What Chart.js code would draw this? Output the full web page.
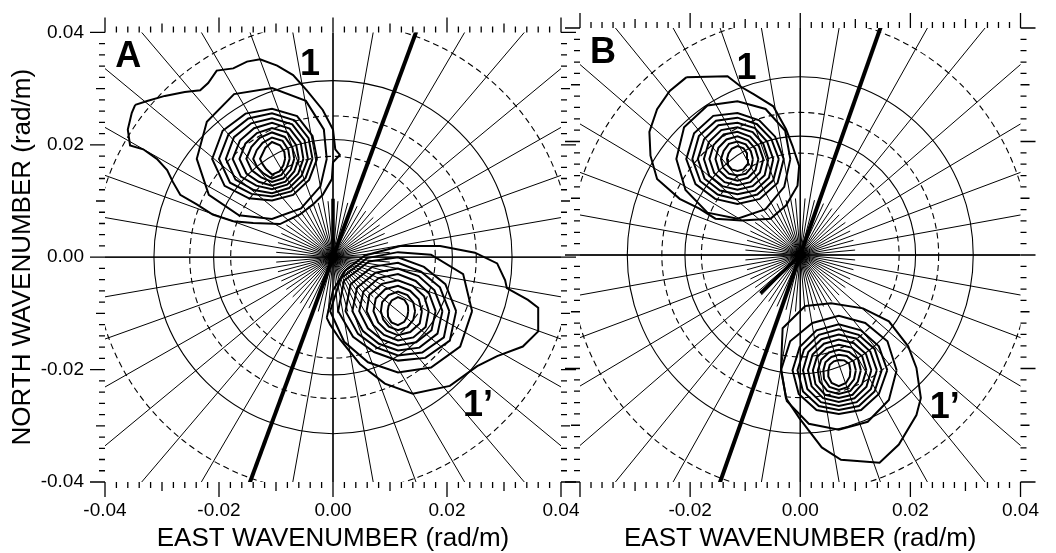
<!DOCTYPE html>
<html>
<head>
<meta charset="utf-8">
<script src="https://cdn.jsdelivr.net/npm/chart.js@4.4.1/dist/chart.umd.min.js"></script>
<style>
  html, body { margin: 0; padding: 0; background: #fff; }
  #wrap { position: relative; width: 1056px; height: 553px; }
  #wrap canvas { position: absolute; left: 0; top: 0; }
</style>
</head>
<body>
<div id="wrap">
  <canvas id="panelA" width="1056" height="553"></canvas>
  <canvas id="panelB" width="1056" height="553"></canvas>
</div>
<script>
// ---- axes (rad/m) ----
const axisMin = -0.04;
const axisMax = 0.04;
const tickValues = [-0.04, -0.02, 0, 0.02, 0.04];
const tickLabels = ['-0.04', '-0.02', '0.00', '0.02', '0.04'];
const minorTickStep = 0.002;

// ---- reference circles: wavelengths in metres, k = 2*pi/lambda ----
const circleWavelengths = [150, 200, 250, 300, 350];
const circleDashed = [true, false, true, false, true];

// ---- direction spokes (degrees, counter-clockwise from east) ----
const spokeStepDeg = 10;
const innerSpokeStepDeg = 5;
const innerSpokeReach = 0.01;
const thickLineDeg = 70;

// short direction vectors from the origin: [direction deg, length rad/m]
const vectorA = [90, 0.0104];
const vectorB = [223, 0.0099];

// ---- spectral contours, coordinates in 1e-3 rad/m ----
// outer contour: vertex list; inner contours: radii at 12 bearings
// (0, 30, ... 330 deg counter-clockwise from east) about the spectral peak
const unit = 0.001;

// panel A, system 1
const a1Centre = [-10.7, 17.5];
const a1Outer = [[-34.7,27.1],[-32.6,27.8],[-29.5,28.7],[-26.0,29.4],[-23.3,29.7],[-21.9,31.0],[-20.4,33.2],[-17.5,33.6],[-15.1,34.8],[-12.8,35.2],[-9.8,34.1],[-7.0,32.4],[-4.6,29.7],[-1.8,26.2],[0.0,22.7],[0.4,19.2],[1.2,18.2],[0.0,16.9],[-0.2,13.9],[-1.8,11.1],[-3.5,9.4],[-5.8,7.6],[-9.3,5.9],[-14.0,6.1],[-17.5,6.4],[-21.1,7.6],[-23.9,9.4],[-26.8,11.1],[-28.1,13.4],[-29.1,15.5],[-30.9,17.5],[-33.3,19.2],[-35.6,19.9],[-36.0,22.7],[-35.3,25.7]];
const a1Rings = [
  [9.6,10.5,11.9,12.6,13.3,13.2,13.2,12.8,11.6,10.7,10.2,9.8],
  [7.9,8.2,8.8,8.9,9.3,10.0,10.5,9.6,8.1,7.4,7.4,7.5],
  [7.1,7.4,7.9,8.1,8.3,8.8,9.3,8.5,7.2,6.7,6.7,6.8],
  [6.3,6.6,7.1,7.2,7.3,7.7,8.1,7.4,6.4,6.1,6.0,6.0],
  [5.5,5.8,6.2,6.4,6.3,6.5,6.9,6.3,5.5,5.4,5.3,5.3],
  [4.7,4.9,5.4,5.5,5.3,5.4,5.7,5.2,4.7,4.8,4.7,4.5],
  [3.9,4.1,4.5,4.7,4.3,4.2,4.5,4.1,3.8,4.1,4.0,3.8],
  [3.1,3.3,3.7,3.8,3.3,3.1,3.3,3.0,3.0,3.5,3.3,3.0],
  [2.3,2.5,2.8,3.0,2.3,1.9,2.1,1.9,2.1,2.8,2.6,2.3]
];

// panel A, system 1'
const a2Centre = [11.4, -9.6];
const a2Outer = [[-1.1,-10.8],[0.0,-5.9],[2.1,-2.4],[5.6,0.3],[11.8,2.0],[18.8,2.0],[24.9,0.8],[28.8,-1.1],[30.2,-4.1],[30.5,-5.5],[34.2,-7.6],[36.0,-9.0],[36.0,-13.2],[33.3,-15.9],[28.8,-17.6],[25.3,-19.4],[20.5,-22.9],[14.0,-24.3],[9.1,-22.5],[4.7,-19.0],[1.2,-14.6],[-0.5,-12.0]];
const a2Rings = [
  [13.0,13.2,11.6,10.5,10.9,11.6,11.9,10.9,10.5,10.9,11.6,12.6],
  [10.2,9.6,9.1,9.6,10.2,10.9,10.5,9.1,8.4,8.8,9.6,10.5],
  [9.0,8.5,8.1,8.6,9.1,9.6,9.2,8.1,7.5,7.9,8.5,9.3],
  [7.8,7.4,7.2,7.6,7.9,8.3,8.0,7.1,6.7,7.0,7.5,8.0],
  [6.6,6.3,6.2,6.6,6.8,7.0,6.8,6.1,5.8,6.1,6.4,6.8],
  [5.4,5.3,5.2,5.5,5.6,5.8,5.5,5.0,4.9,5.2,5.4,5.6],
  [4.2,4.2,4.2,4.5,4.5,4.5,4.3,4.0,4.0,4.3,4.3,4.4],
  [3.0,3.1,3.3,3.5,3.3,3.2,3.0,3.0,3.2,3.4,3.3,3.1],
  [1.8,2.0,2.3,2.5,2.2,1.9,1.8,2.0,2.3,2.5,2.2,1.9]
];

// panel B, system 1
const b1Centre = [-11.4, 16.9];
const b1Outer = [[-20.7,31.3],[-13.2,31.5],[-10.7,29.6],[-8.4,28.3],[-4.9,26.2],[-2.6,22.2],[-1.4,19.2],[-0.2,15.7],[-0.5,12.2],[-2.6,8.7],[-5.4,6.4],[-10.7,6.1],[-15.4,6.4],[-18.4,8.2],[-21.9,9.9],[-26.0,13.4],[-27.2,17.5],[-27.4,21.7],[-26.0,25.7],[-23.7,28.9]];
const b1Rings = [
  [9.6,10.0,10.2,10.2,10.9,11.2,11.1,10.9,10.9,10.5,10.2,9.8],
  [8.4,7.9,7.9,8.1,8.8,9.1,9.3,8.8,8.1,7.9,8.1,8.4],
  [7.5,7.1,7.1,7.3,7.8,8.1,8.2,7.8,7.2,7.1,7.2,7.5],
  [6.5,6.2,6.3,6.4,6.9,7.0,7.2,6.9,6.4,6.2,6.4,6.6],
  [5.6,5.4,5.5,5.6,5.9,6.0,6.1,5.9,5.5,5.4,5.5,5.7],
  [4.7,4.5,4.6,4.8,5.0,5.0,5.1,4.9,4.7,4.6,4.7,4.7],
  [3.8,3.7,3.8,4.0,4.0,4.0,4.0,3.9,3.8,3.8,3.8,3.8],
  [2.8,2.8,3.0,3.1,3.1,2.9,3.0,3.0,3.0,2.9,3.0,2.9],
  [1.9,2.0,2.2,2.3,2.1,1.9,1.9,2.0,2.1,2.1,2.1,2.0]
];

// panel B, system 1'
const b2Centre = [7.0, -20.3];
const b2Outer = [[0.9,-9.0],[-3.2,-12.9],[-3.5,-19.9],[-2.6,-25.2],[-0.2,-28.7],[3.9,-33.9],[7.4,-36.1],[14.4,-36.6],[17.9,-33.4],[21.1,-28.2],[21.9,-25.2],[21.1,-19.9],[19.6,-16.1],[16.1,-11.7],[11.4,-9.4],[5.6,-8.5]];
const b2Rings = [
  [10.5,10.2,9.6,9.6,9.6,10.2,10.5,10.9,10.9,10.5,10.5,10.5],
  [8.8,8.4,8.1,8.1,8.1,8.2,8.4,8.4,8.1,7.7,8.1,8.4],
  [7.8,7.5,7.2,7.2,7.2,7.3,7.5,7.5,7.3,7.0,7.3,7.5],
  [6.9,6.6,6.4,6.3,6.3,6.4,6.5,6.6,6.5,6.3,6.5,6.7],
  [5.9,5.7,5.5,5.4,5.4,5.5,5.6,5.7,5.7,5.6,5.7,5.8],
  [5.0,4.9,4.6,4.5,4.5,4.6,4.7,4.9,5.0,4.9,5.0,4.9],
  [4.0,4.0,3.7,3.6,3.6,3.7,3.8,4.0,4.2,4.2,4.2,4.0],
  [3.1,3.1,2.9,2.7,2.7,2.8,2.8,3.1,3.4,3.5,3.4,3.2],
  [2.1,2.2,2.0,1.8,1.8,1.9,1.9,2.2,2.6,2.8,2.6,2.3]
];

// ---- annotations: text and where it sits (rad/m) ----
const panelLetters = ['A', 'B'];
const letterAt = [-0.0382, 0.0339];
const peakLabelsA = [['1', [-0.0058, 0.0324]], ['1\u2019', [0.0228, -0.0283]]];
const peakLabelsB = [['1', [-0.0116, 0.0310]], ['1\u2019', [0.0235, -0.0287]]];

const FONT = '"Liberation Sans", Arial, Helvetica, sans-serif';

function closedPath(list) {
  const pts = list.map(([x, y]) => ({ x: x * unit, y: y * unit }));
  pts.push(pts[0]);
  return pts;
}
function ringPath(centre, radii) {
  const n = radii.length;
  const pts = radii.map((r, i) => {
    const t = 2 * Math.PI * i / n;
    return { x: (centre[0] + r * Math.cos(t)) * unit, y: (centre[1] + r * Math.sin(t)) * unit };
  });
  pts.push(pts[0]);
  return pts;
}
function contourSet(centre, outer, rings) {
  const sets = [closedPath(outer)];
  rings.forEach(r => sets.push(ringPath(centre, r)));
  return sets.map(data => ({
    data, showLine: true, borderColor: '#000', borderWidth: 2,
    pointRadius: 0, tension: 0, fill: false, borderJoinStyle: 'miter'
  }));
}

// polar grid, axis tick marks and labels drawn through the chart's scales
const decor = {
  id: 'decor',
  beforeDatasetsDraw(chart, args, o) {
    const { ctx, chartArea: a, scales: { x, y } } = chart;
    const x0 = x.getPixelForValue(0), y0 = y.getPixelForValue(0);
    const px = v => x.getPixelForValue(v), py = v => y.getPixelForValue(v);
    ctx.save();
    ctx.beginPath();
    ctx.rect(a.left, a.top, a.right - a.left, a.bottom - a.top);
    ctx.clip();
    ctx.strokeStyle = '#000';
    // wavelength circles
    circleWavelengths.forEach((lam, i) => {
      const k = 2 * Math.PI / lam;
      ctx.beginPath();
      ctx.ellipse(x0, y0, px(k) - x0, y0 - py(k), 0, 0, 2 * Math.PI);
      ctx.setLineDash(circleDashed[i] ? [6, 4] : []);
      ctx.lineWidth = 1.1;
      ctx.stroke();
    });
    ctx.setLineDash([]);
    // direction spokes
    ctx.lineWidth = 1;
    for (let d = 0; d < 360; d += innerSpokeStepDeg) {
      const t = d * Math.PI / 180;
      const reach = (d % spokeStepDeg === 0) ? 0.08 : innerSpokeReach;
      ctx.beginPath();
      ctx.moveTo(x0, y0);
      ctx.lineTo(px(reach * Math.cos(t)), py(reach * Math.sin(t)));
      ctx.stroke();
    }
    // zero lines
    ctx.lineWidth = 1.3;
    ctx.beginPath();
    ctx.moveTo(a.left, y0); ctx.lineTo(a.right, y0);
    ctx.moveTo(x0, a.top); ctx.lineTo(x0, a.bottom);
    ctx.stroke();
    // thick direction line
    const tt = thickLineDeg * Math.PI / 180;
    ctx.lineWidth = 4;
    ctx.beginPath();
    ctx.moveTo(px(-0.08 * Math.cos(tt)), py(-0.08 * Math.sin(tt)));
    ctx.lineTo(px(0.08 * Math.cos(tt)), py(0.08 * Math.sin(tt)));
    ctx.stroke();
    // short vector
    const [vd, vl] = o.vector;
    const vt = vd * Math.PI / 180;
    ctx.lineWidth = 3.5;
    ctx.beginPath();
    ctx.moveTo(x0, y0);
    ctx.lineTo(px(vl * Math.cos(vt)), py(vl * Math.sin(vt)));
    ctx.stroke();
    // origin dot
    ctx.fillStyle = '#000';
    ctx.beginPath();
    ctx.arc(x0, y0, 5.5, 0, 2 * Math.PI);
    ctx.fill();
    ctx.restore();
  },
  afterDraw(chart, args, o) {
    const { ctx, chartArea: a, scales: { x, y } } = chart;
    const px = v => x.getPixelForValue(v), py = v => y.getPixelForValue(v);
    ctx.save();
    ctx.strokeStyle = '#000';
    ctx.lineWidth = 1.3;
    const n = Math.round((axisMax - axisMin) / minorTickStep);
    ctx.beginPath();
    for (let i = 0; i <= n; i++) {
      const v = axisMin + i * minorTickStep;
      const major = i % 10 === 0, mid = i % 5 === 0;
      const len = major ? 15 : (mid ? 9 : 6);
      const X = px(v), Y = py(v);
      ctx.moveTo(X, a.bottom); ctx.lineTo(X, a.bottom + len);
      ctx.moveTo(X, a.top); ctx.lineTo(X, a.top - len);
      ctx.moveTo(a.left, Y); ctx.lineTo(a.left - len, Y);
      ctx.moveTo(a.right, Y); ctx.lineTo(a.right + len, Y);
    }
    ctx.stroke();
    // panel letter and system labels
    ctx.fillStyle = '#000';
    ctx.textAlign = 'left';
    ctx.textBaseline = 'alphabetic';
    ctx.font = 'bold 36px ' + FONT;
    ctx.fillText(o.letter, px(letterAt[0]), py(letterAt[1]));
    o.labels.forEach(([t, [lx, ly]]) => ctx.fillText(t, px(lx), py(ly)));
    ctx.restore();
  }
};

function makePanel(id, cfg) {
  const datasets = [];
  cfg.systems.forEach(s => datasets.push(...contourSet(s[0], s[1], s[2])));
  const tickFont = { family: FONT, size: 19, lineHeight: 1.2 };
  return new Chart(document.getElementById(id), {
    type: 'scatter',
    data: { datasets },
    options: {
      responsive: false,
      animation: false,
      events: [],
      layout: { padding: { left: cfg.padLeft, right: cfg.padRight, top: 28, bottom: 0 } },
      plugins: {
        legend: { display: false },
        tooltip: { enabled: false },
        decor: { letter: cfg.letter, labels: cfg.labels, vector: cfg.vector }
      },
      scales: {
        x: {
          type: 'linear', position: 'bottom', min: axisMin, max: axisMax,
          afterBuildTicks: s => { s.ticks = tickValues.map(v => ({ value: v })); },
          afterFit: s => { s.height = 71; },
          grid: { display: false, drawTicks: false },
          border: { display: false },
          ticks: {
            padding: 17, font: tickFont, color: '#000', maxRotation: 0, autoSkip: false,
            callback: (v, i) => cfg.xLabels[i]
          },
          title: {
            display: true, text: 'EAST WAVENUMBER (rad/m)', color: '#000',
            font: { family: FONT, size: 26, lineHeight: 1 }, padding: { top: 0, bottom: 1 }
          }
        },
        y: {
          type: 'linear', position: 'left', min: axisMin, max: axisMax,
          display: cfg.showY,
          afterBuildTicks: s => { s.ticks = tickValues.map(v => ({ value: v })); },
          afterFit: s => { if (cfg.showY) s.width = 105; },
          grid: { display: false, drawTicks: false },
          border: { display: false },
          ticks: {
            padding: 21, font: tickFont, color: '#000', autoSkip: false,
            callback: (v, i) => tickLabels[i]
          },
          title: {
            display: true, text: 'NORTH WAVENUMBER (rad/m)', color: '#000',
            font: { family: FONT, size: 26, lineHeight: 1.2 }, padding: { top: 7, bottom: 0 }
          }
        }
      }
    },
    plugins: [decor]
  });
}

makePanel('panelA', {
  letter: panelLetters[0], labels: peakLabelsA, vector: vectorA,
  padLeft: 0, padRight: 1056 - 561, showY: true, xLabels: tickLabels,
  systems: [[a1Centre, a1Outer, a1Rings], [a2Centre, a2Outer, a2Rings]]
});
makePanel('panelB', {
  letter: panelLetters[1], labels: peakLabelsB, vector: vectorB,
  padLeft: 580, padRight: 1056 - 1036, showY: false,
  xLabels: ['', '-0.02', '0.00', '0.02', '0.04'],
  systems: [[b1Centre, b1Outer, b1Rings], [b2Centre, b2Outer, b2Rings]]
});
</script>
</body>
</html>
